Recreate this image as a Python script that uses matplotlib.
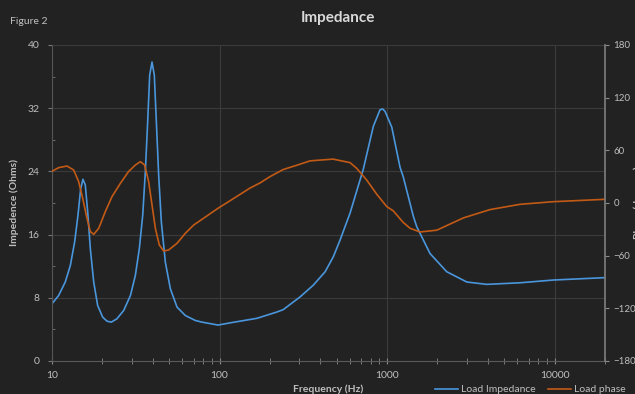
import matplotlib
matplotlib.use("Agg")
import matplotlib.pyplot as plt
from matplotlib.ticker import NullFormatter, LogLocator

plt.rcParams["font.family"] = ["Lato", "DejaVu Sans"]

# impedance magnitude (ohms)
imp_freq = [10, 10.96, 12.0, 12.87, 13.66, 14.3, 14.83, 15.3, 15.8, 16.33, 16.94,
            17.74, 18.73, 20.07, 21.3, 22.6, 24.4, 26.8, 29.4, 31.45, 33.2, 34.8,
            36.07, 37.25, 38.3, 39.54, 40.8, 41.97, 43.33, 44.95, 47.5, 50.87,
            55.76, 62.5, 71.7, 78.6, 98, 121, 167, 220, 240, 302, 363, 427, 478,
            524, 601, 722, 828, 908, 942, 973, 1067, 1196, 1250, 1436, 1504, 1806,
            2271, 2993, 3937, 6223, 9840, 20000]
imp_ohms = [7.24, 8.3, 10.0, 12.1, 15.1, 18.5, 21.8, 23.0, 22.3, 18.9, 14.2,
            10.0, 7.03, 5.55, 5.04, 4.92, 5.34, 6.4, 8.3, 10.84, 14.2, 18.46,
            23.96, 30.3, 36.2, 37.84, 36.2, 30.3, 23.5, 17.6, 12.5, 9.15,
            6.82, 5.76, 5.13, 4.92, 4.55, 4.9, 5.4, 6.2, 6.5, 8.1, 9.6, 11.3, 13.2,
            15.3, 18.7, 24.3, 29.7, 31.8, 31.9, 31.6, 29.6, 24.5, 23.3, 18.3, 17.0, 13.6,
            11.3, 10.0, 9.7, 9.9, 10.25, 10.55]

# phase (degrees)
ph_freq = [10, 10.96, 12.3, 13.47, 14.43, 15.25, 16.17, 16.94, 17.74, 19.0, 20.8,
           22.8, 25.6, 28.6, 31.45, 33.7, 35.7, 37.75, 39.54, 41.4, 43.7, 46.4,
           49.7, 55.76, 62.5, 70.1, 78.6, 98, 121, 152, 175, 200, 239, 300, 347,
           476, 601, 659, 757, 868, 995, 1090, 1247, 1372, 1574, 1980, 2854,
           4120, 6223, 9840, 20000]
ph_deg = [36.1, 40.3, 42.1, 37.6, 24.3, 5.3, -17.5, -32.6, -35.7, -28.9, -9.9,
          7.2, 22.4, 35.7, 43.3, 47.1, 43.3, 24.3, -2.3, -28.9, -47.8, -54.7,
          -53.5, -45.9, -34.5, -25.1, -18.6, -6, 5, 17, 23, 30, 38, 44, 48,
          50, 46, 39.5, 26, 10, -4, -9, -22, -28.8, -33, -31, -17,
          -7.5, -1.5, 1.5, 4.2]

BG = "#222222"
TXT = "#bfbfbf"
GRID = "#3b3b3b"
BLUE = "#4a96dc"
ORANGE = "#c25a16"

fig = plt.figure(figsize=(6.35, 3.94), dpi=100, facecolor=BG)
ax = fig.add_axes([52 / 635, 1 - 361 / 394, 553 / 635, 316 / 394], facecolor=BG)
ax2 = ax.twinx()

l1, = ax.plot(imp_freq, imp_ohms, color=BLUE, lw=1.2, label="Load Impedance")
l2, = ax2.plot(ph_freq, ph_deg, color=ORANGE, lw=1.2, label="Load phase")

ax.set_xscale("log")
ax.set_xlim(10, 20000)
ax.set_ylim(0, 40)
ax.set_yticks([0, 8, 16, 24, 32, 40])
ax.set_yticks([4, 12, 20, 28, 36], minor=True)
ax.set_xticks([10, 100, 1000, 10000])
ax.set_xticklabels(["10", "100", "1000", "10000"])
ax.xaxis.set_minor_locator(LogLocator(base=10, subs=range(2, 10)))
ax.xaxis.set_minor_formatter(NullFormatter())

ax2.set_ylim(-180, 180)
ax2.set_yticks([-180, -120, -60, 0, 60, 120, 180])

ax.grid(True, which="major", color=GRID, lw=0.8)
ax.set_axisbelow(True)

for s in ["top", "right"]:
    ax.spines[s].set_visible(False)
for s in ["top", "left", "bottom"]:
    ax2.spines[s].set_visible(False)
ax.spines["left"].set_color("#555555")
ax.spines["bottom"].set_color("#5a5a5a")
ax2.spines["right"].set_color("#7f7f7f")
ax2.spines["right"].set_linewidth(1.2)

ax.tick_params(axis="y", which="major", direction="out", length=3, color="#777777",
               labelcolor=TXT, labelsize=7.5, pad=6)
ax.tick_params(axis="y", which="minor", direction="in", length=2, color="#777777")
ax.tick_params(axis="x", which="both", direction="inout", length=5, color="#8a8a8a",
               labelcolor=TXT, labelsize=7.5, pad=5)
ax2.tick_params(axis="y", direction="out", length=3, color="#8a8a8a",
                labelcolor=TXT, labelsize=7, pad=3)

ax.set_ylabel("Impedence (Ohms)", color=TXT, fontsize=7.5, fontweight="bold", labelpad=6)
ax.set_xlabel("Frequency (Hz)", color=TXT, fontsize=7.5, fontweight="bold", labelpad=3)
# right-hand label sits mostly past the edge, as in the original
ax2.set_ylabel("Phase (degrees)", color=TXT, fontsize=7.5, fontweight="bold")
ax2.yaxis.set_label_coords((633 - 52) / 553, 0.5)

fig.text(338 / 635, 1 - 18 / 394, "Impedance", color="#d9d9d9", fontsize=11,
         fontweight="bold", ha="center", va="center")
fig.text(10 / 635, 1 - 22 / 394, "Figure 2", color=TXT, fontsize=7.5,
         ha="left", va="center")

fig.legend(handles=[l1, l2], loc="lower right", bbox_to_anchor=(1.0, -0.025), ncol=2,
           frameon=False, fontsize=7.5, labelcolor=TXT, handlelength=2.2,
           handletextpad=0.3, columnspacing=1.2)

fig.savefig("out.png", dpi=100, facecolor=BG)
